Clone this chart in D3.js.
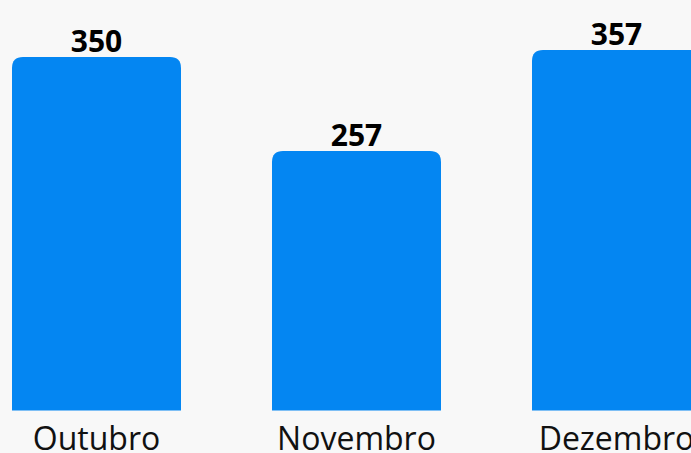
<!DOCTYPE html>
<html><head><meta charset="utf-8">
<script src="https://cdn.jsdelivr.net/npm/d3@7"></script>
<style>html,body{margin:0;padding:0;background:#f8f8f8;overflow:hidden}</style>
</head><body>
<svg id="c" width="691" height="453"></svg>
<script>
const categories = ["Outubro", "Novembro", "Dezembro"];
const values = [350, 257, 357];

const svg = d3.select("#c");
svg.append("rect").attr("width", 691).attr("height", 453).attr("fill", "#f8f8f8");

const x = d3.scaleBand().domain(categories).range([12, 701]).paddingInner(0.35).paddingOuter(0);
const y = d3.scaleLinear().domain([0, 357]).range([410.5, 50]);

const r = 11;
function barPath(x0, w, yTop, yBot) {
  return `M${x0},${yBot}V${yTop + r}Q${x0},${yTop} ${x0 + r},${yTop}H${x0 + w - r}Q${x0 + w},${yTop} ${x0 + w},${yTop + r}V${yBot}Z`;
}

const data = categories.map((c, i) => ({c, v: values[i]}));

svg.selectAll("path.bar").data(data).join("path")
  .attr("class", "bar")
  .attr("fill", "#0486f2")
  .attr("d", d => barPath(x(d.c), x.bandwidth(), y(d.v), y(0)));

svg.selectAll("text.val").data(data).join("text")
  .attr("class", "val")
  .attr("x", d => x(d.c) + x.bandwidth() / 2)
  .attr("y", d => y(d.v) - 5)
  .attr("text-anchor", "middle")
  .attr("font-family", "'Open Sans', sans-serif")
  .attr("font-weight", "bold")
  .attr("font-size", 30)
  .attr("fill", "#000")
  .text(d => d.v);

const xAxis = d3.axisBottom(x).tickSize(0).tickPadding(0);
const g = svg.append("g").attr("transform", `translate(0,${y(0)})`).call(xAxis);
g.select(".domain").remove();
g.selectAll("text")
  .attr("font-family", "'Open Sans', sans-serif")
  .attr("font-size", 32)
  .attr("fill", "#111")
  .attr("dy", null)
  .attr("y", 39.5);
</script>
</body></html>
